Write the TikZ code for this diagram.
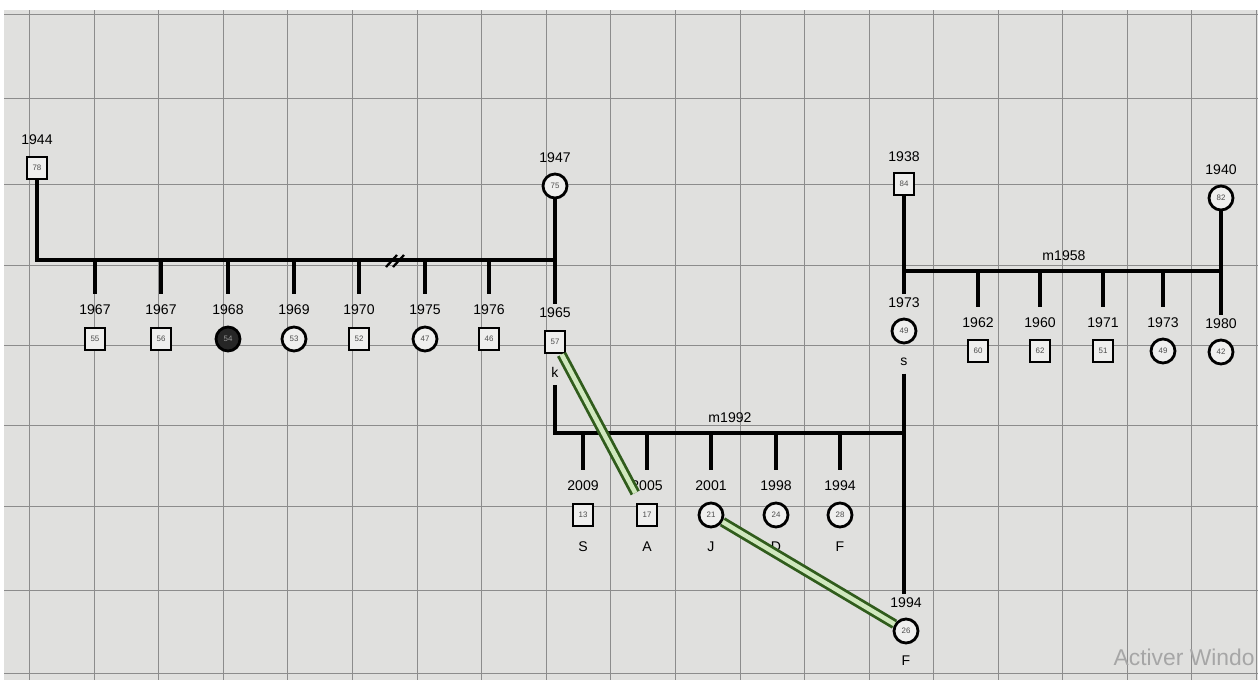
\documentclass[tikz,border=0pt]{standalone}
\usepackage{fontspec}
\setmainfont{Liberation Sans}
\usetikzlibrary{arrows,shapes,positioning}

\definecolor{screen}{RGB}{224,224,222}
\definecolor{bondgreen}{RGB}{48,92,28}
\definecolor{bondlight}{RGB}{208,232,190}

\begin{document}
\begin{tikzpicture}[x=0.02cm, y=-0.02cm, thick,
    male/.style={rectangle, draw, line width=1.6pt, fill=screen!50!white, minimum width=0.4cm, minimum height=0.44cm, inner sep=0pt, text=black!70, font=\fontsize{4.5}{5}\selectfont},
    female/.style={circle, draw, line width=1.6pt, fill=screen!50!white, minimum size=0.48cm, inner sep=0pt, text=black!70, font=\fontsize{4.5}{5}\selectfont},
    year/.style={font=\fontsize{8}{9}\selectfont, inner sep=1pt},
    tag/.style={font=\fontsize{8}{9}\selectfont, inner sep=1pt},
    line/.style={draw, line width=1.8pt, shorten >=1pt},
    gridline/.style={draw=black!45, line width=0.5pt},
    bond/.style={draw=bondgreen, line width=1.6pt, double=bondlight, double distance=2.6pt}]

    \useasboundingbox (0,0) rectangle (1258,680);
    \clip (0,0) rectangle (1258,680);
    \fill [white] (0,0) rectangle (1258,680);
    \fill [screen] (4,10) rectangle (1258,680);

    % screen grid
    \path [gridline] (29,10) -- (29,680) (94,10) -- (94,680) (158,10) -- (158,680) (223,10) -- (223,680)
        (287,10) -- (287,680) (352,10) -- (352,680) (417,10) -- (417,680) (481,10) -- (481,680)
        (546,10) -- (546,680) (610,10) -- (610,680) (675,10) -- (675,680) (740,10) -- (740,680)
        (804,10) -- (804,680) (869,10) -- (869,680) (933,10) -- (933,680) (998,10) -- (998,680)
        (1062,10) -- (1062,680) (1127,10) -- (1127,680) (1191,10) -- (1191,680) (1256,10) -- (1256,680);
    \path [gridline] (4,14) -- (1258,14) (4,98) -- (1258,98) (4,184) -- (1258,184) (4,265) -- (1258,265)
        (4,345) -- (1258,345) (4,425) -- (1258,425) (4,506) -- (1258,506) (4,590) -- (1258,590) (4,673) -- (1258,673);

    % left family
    \node [male] (p1944) at (37,168) {78};
    \node [year, above of=p1944, node distance=0.56cm] (y1944) {1944};
    \node [female] (p1947) at (555,186) {75};
    \node [year, above of=p1947, node distance=0.56cm] (y1947) {1947};
    \coordinate (sib1) at (37,260);

    \node [male] (c55) at (95,339) {55};
    \node [year, above of=c55, node distance=0.58cm] (y55) {1967};
    \node [male] (c56) at (161,339) {56};
    \node [year, above of=c56, node distance=0.58cm] (y56) {1967};
    \node [female, fill=black!85, text=black!40] (c54) at (228,339) {54};
    \node [year, above of=c54, node distance=0.58cm] (y54) {1968};
    \node [female] (c53) at (294,339) {53};
    \node [year, above of=c53, node distance=0.58cm] (y53) {1969};
    \node [male] (c52) at (359,339) {52};
    \node [year, above of=c52, node distance=0.58cm] (y52) {1970};
    \node [female] (c47) at (425,339) {47};
    \node [year, above of=c47, node distance=0.58cm] (y47) {1975};
    \node [male] (c46) at (489,339) {46};
    \node [year, above of=c46, node distance=0.58cm] (y46) {1976};
    \node [male] (c57) at (555,342) {57};
    \node [year, above of=c57, node distance=0.58cm] (y57) {1965};
    \node [tag, below of=c57, node distance=0.6cm] (tk) {k};

    \path [line] (p1944) -- (sib1) -- (sib1 -| p1947);
    \path [line] (p1947) -- (y57.north);
    \path [line] (y55 |- sib1) -- ([yshift=4pt]y55.north);
    \path [line] (y56 |- sib1) -- ([yshift=4pt]y56.north);
    \path [line] (y54 |- sib1) -- ([yshift=4pt]y54.north);
    \path [line] (y53 |- sib1) -- ([yshift=4pt]y53.north);
    \path [line] (y52 |- sib1) -- ([yshift=4pt]y52.north);
    \path [line] (y47 |- sib1) -- ([yshift=4pt]y47.north);
    \path [line] (y46 |- sib1) -- ([yshift=4pt]y46.north);
    \coordinate (brk) at (396,261);
    \draw [line width=1.3pt] ([shift={(-10,6)}]brk) -- ++(11,-12) ([shift={(-3,6)}]brk) -- ++(11,-12);

    % right family
    \node [male] (p1938) at (904,184) {84};
    \node [year, above of=p1938, node distance=0.54cm] (y1938) {1938};
    \node [female] (p1940) at (1221,198) {82};
    \node [year, above of=p1940, node distance=0.56cm] (y1940) {1940};
    \coordinate (sib3) at (904,271);
    \node [year, above of=sib3, node distance=0.3cm, xshift=3.2cm] (m1958) {m1958};

    \node [female] (c49s) at (904,331) {49};
    \node [year, above of=c49s, node distance=0.56cm] (y49s) {1973};
    \node [tag, below of=c49s, node distance=0.62cm] (ts) {s};
    \node [male] (c60) at (978,351) {60};
    \node [year, above of=c60, node distance=0.56cm] (y60) {1962};
    \node [male] (c62) at (1040,351) {62};
    \node [year, above of=c62, node distance=0.56cm] (y62) {1960};
    \node [male] (c51) at (1103,351) {51};
    \node [year, above of=c51, node distance=0.56cm] (y51) {1971};
    \node [female] (c49) at (1163,351) {49};
    \node [year, above of=c49, node distance=0.56cm] (y49) {1973};
    \node [female] (c42) at (1221,352) {42};
    \node [year, above of=c42, node distance=0.56cm] (y42) {1980};

    \path [line] (p1938) -- (y49s.north);
    \path [line] (p1940) -- (y42.north);
    \path [line] (sib3) -- (sib3 -| p1940);
    \path [line] (y60 |- sib3) -- ([yshift=4pt]y60.north);
    \path [line] (y62 |- sib3) -- ([yshift=4pt]y62.north);
    \path [line] (y51 |- sib3) -- ([yshift=4pt]y51.north);
    \path [line] (y49 |- sib3) -- ([yshift=4pt]y49.north);

    % couple k - s
    \coordinate (sib2) at (555,433);
    \node [year, above of=sib2, node distance=0.3cm, xshift=3.5cm] (m1992) {m1992};

    \node [male] (c13) at (583,515) {13};
    \node [year, above of=c13, node distance=0.58cm] (y13) {2009};
    \node [tag, below of=c13, node distance=0.64cm] (tS) {S};
    \node [male] (c17) at (647,515) {17};
    \node [year, above of=c17, node distance=0.58cm] (y17) {2005};
    \node [tag, below of=c17, node distance=0.64cm] (tA) {A};
    \node [female] (c21) at (711,515) {21};
    \node [year, above of=c21, node distance=0.58cm] (y21) {2001};
    \node [tag, below of=c21, node distance=0.64cm] (tJ) {J};
    \node [female] (c24) at (776,515) {24};
    \node [year, above of=c24, node distance=0.58cm] (y24) {1998};
    \node [tag, below of=c24, node distance=0.64cm] (tD) {D};
    \node [female] (c28) at (840,515) {28};
    \node [year, above of=c28, node distance=0.58cm] (y28) {1994};
    \node [tag, below of=c28, node distance=0.64cm] (tF) {F};
    \node [female] (c26) at (906,631) {26};
    \node [year, above of=c26, node distance=0.56cm] (y26) {1994};
    \node [tag, below of=c26, node distance=0.6cm] (tF2) {F};

    \path [line] ([yshift=-3pt]tk.south) -- (sib2) -- (sib2 -| ts);
    \path [line] ([yshift=-3pt]ts.south) -- (y26.north -| ts);
    \path [line] (y13 |- sib2) -- ([yshift=4pt]y13.north);
    \path [line] (y17 |- sib2) -- ([yshift=4pt]y17.north);
    \path [line] (y21 |- sib2) -- ([yshift=4pt]y21.north);
    \path [line] (y24 |- sib2) -- ([yshift=4pt]y24.north);
    \path [line] (y28 |- sib2) -- ([yshift=4pt]y28.north);

    % close bonds
    \path [bond, shorten >=0.22cm] (c57) -- (c17);
    \path [bond] (c21) -- (c26);

    \node [anchor=east, text=black!35, font=\fontsize{13}{13}\selectfont, inner sep=1pt] (wm) at (1257,657) {Activer Windo};
\end{tikzpicture}
\end{document}
